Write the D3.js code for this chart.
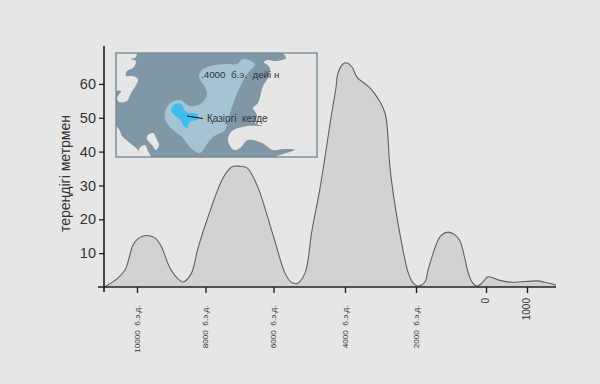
<!DOCTYPE html>
<html><head><meta charset="utf-8">
<style>html,body{margin:0;padding:0;background:#e6e6e6}svg{display:block}text{font-family:"Liberation Sans",Arial,sans-serif}</style>
<script src="https://cdn.jsdelivr.net/npm/d3@7"></script></head>
<body><svg id="c" width="600" height="384"></svg>
<script>
const years=[-10950,-10584,-10350,-10117,-10000,-9854,-9708,-9474,-9299,-9036,-8803,-8657,-8424,-8219,-7956,-7485,-7221,-7015,-6779,-6485,-6015,-5678,-5511,-5343,-5119,-4923,-4699,-4366,-4254,-4197,-4056,-3944,-3803,-3662,-3296,-3014,-2873,-2817,-2732,-2592,-2394,-2225,-2084,-1943,-1743,-1657,-1543,-1429,-1286,-1086,-886,-743,-629,-514,-400,-257,-114,49,171,390,659,1244,1439,1707];
const depths=[0,2.4,5.0,12.4,14.0,14.9,15.2,14.5,12.1,5.6,2.4,1.5,3.8,11.5,19.8,32.2,35.5,35.7,35.2,30.1,15.4,4.1,1.5,1.0,4.1,16.8,29.2,51.7,58.8,63.2,65.9,66.2,65.0,62.0,58.8,54.7,51.4,47.9,35.2,24.2,12.4,4.4,1.2,0.3,1.5,5.0,8.9,12.4,15.2,16.2,15.4,13.6,9.5,4.4,1.5,0.2,1.2,3.0,2.7,1.8,1.4,1.8,1.4,0.6];
const yearTicks=[-10000,-8000,-6000,-4000,-2000,0,1000];
const yearTickPositions=[137,205.5,273.5,345,416,486,527];
const yearLabels=["10000  б.э.д.","8000  б.э.д.","6000  б.э.д.","4000  б.э.д.","2000  б.э.д.","0","1000"];
const depthTicks=[10,20,30,40,50,60];
const yTitle="тереңдігі метрмен";
const mapLabelOld=".4000  б.э.  дейі н";
const mapLabelNow="Қазіргі  кезде";
// inset map outlines, in map units (0..201, 0..104)
const landTopLeft=[[-6,-6],[21,-6],[21,0],[19.5,4.5],[15,6],[20,8],[17,15],[11,18],[10,23],[16,23],[22,26],[20,32],[15,40],[11,48],[3,49],[1,45],[5,38],[-6,37]];
const landBottomLeft=[[-6,70],[1,74],[4,78],[6,83],[14,90],[20,95],[24,99],[27,104],[28,110],[-6,110]];
const islandA=[[32,82],[37,80],[41,87],[43,92],[40,97],[36,92],[31,86]];
const islandB=[[23,96],[29,92],[32,98],[35,104],[36,110],[26,110],[26,104]];
const landRight=[[163,-6],[206,-6],[206,110],[158,110],[160,104],[167,101],[179,97],[167,96],[157,97],[146,90],[132,87],[124,95],[118,97],[112,87],[116,78],[132,73],[146,73],[139,70],[141,62],[137,55],[142,50],[147,33],[152,25],[154,15],[148,9],[152,7],[159,8],[170,5]];
const shelf=[[83,24],[86,17],[94,13],[111,11],[121,11],[127,6],[139,11],[131,21],[124,34],[117,51],[112,67],[109,77],[97,84],[91,91],[84,100],[76,96],[66,84],[56,76],[49,66],[50,56],[56,49],[64,47],[74,53],[84,51],[91,42],[89,34]];
const lake=[[55,57],[59,51],[65,51],[70,59],[81,61],[82,66],[74,69],[71,75],[67,72],[64,66],[58,62]];
const leader=[[71,63],[87,65.5]];

const svg=d3.select("#c");
const x=d3.scaleLinear().domain(yearTicks).range(yearTickPositions);
const y=d3.scaleLinear().domain([0,71.2]).range([287,46]);
const pts=years.map((d,i)=>[d,depths[i]]);
const curve=d3.curveCatmullRom.alpha(0.5);
svg.append("path").datum(pts).attr("fill","#d1d2d4")
  .attr("d",d3.area().x(d=>x(d[0])).y0(y(0)).y1(d=>y(d[1])).curve(curve));
svg.append("path").datum(pts).attr("fill","none").attr("stroke","#606060").attr("stroke-width",1.1)
  .attr("d",d3.line().x(d=>x(d[0])).y(d=>y(d[1])).curve(curve));

// inset map
const mx=d3.scaleLinear().domain([0,201]).range([116,317]);
const my=d3.scaleLinear().domain([0,104]).range([53,157]);
const clip=svg.append("clipPath").attr("id","mc");
clip.append("rect").attr("x",116).attr("y",53).attr("width",201).attr("height",104);
const m=svg.append("g").attr("clip-path","url(#mc)");
m.append("rect").attr("x",116).attr("y",53).attr("width",201).attr("height",104).attr("fill","#8097a5");
const blob=d3.line().x(d=>mx(d[0])).y(d=>my(d[1])).curve(d3.curveCatmullRomClosed.alpha(0.5));
[landTopLeft,landBottomLeft,islandA,islandB,landRight].forEach(s=>{
  m.append("path").attr("d",blob(s)).attr("fill","#e6e6e6");
});
m.append("path").attr("d",blob(shelf)).attr("fill","#a6c3d3");
m.append("path").attr("d",blob(lake)).attr("fill","#3dbcf0");
svg.append("rect").attr("x",116).attr("y",53).attr("width",201).attr("height",104).attr("fill","none").attr("stroke","#6f8791").attr("stroke-width",1.3);
svg.append("line").attr("x1",mx(leader[0][0])).attr("y1",my(leader[0][1])).attr("x2",mx(leader[1][0])).attr("y2",my(leader[1][1])).attr("stroke","#111").attr("stroke-width",1.1);
svg.append("text").attr("x",201).attr("y",78).attr("font-size",9.8).attr("fill","#333").style("white-space","pre").text(mapLabelOld);
svg.append("text").attr("x",207).attr("y",121.5).attr("font-size",10).attr("fill","#333").style("white-space","pre").text(mapLabelNow);

// axes
const ax=svg.append("g").attr("transform",`translate(0,${y(0)})`)
  .call(d3.axisBottom(x).tickValues(yearTicks).tickSize(6).tickSizeOuter(0).tickFormat((d,i)=>yearLabels[i]));
ax.select(".domain").remove();
ax.selectAll(".tick line").attr("stroke","#222").attr("stroke-width",1.4);
ax.selectAll(".tick text").attr("text-anchor","end").attr("dominant-baseline","middle").style("white-space","pre")
  .attr("fill","#333")
  .attr("font-size",(d)=>d>=0?10:8.1)
  .attr("x",0).attr("dy",null)
  .attr("y",0)
  .attr("transform",d=>`translate(0,${d>=0?11:18.5}) rotate(-90)`);
const ay=svg.append("g").attr("transform","translate(104,0)")
  .call(d3.axisLeft(y).tickValues(depthTicks).tickSize(5).tickPadding(3).tickSizeOuter(0));
ay.select(".domain").remove();
ay.selectAll(".tick line").attr("stroke","#222").attr("stroke-width",1.3);
ay.selectAll(".tick text").attr("font-size",14.5).attr("fill","#333");
svg.append("line").attr("x1",104).attr("x2",104).attr("y1",46).attr("y2",292).attr("stroke","#111").attr("stroke-width",1.5);
svg.append("line").attr("x1",98).attr("x2",556).attr("y1",287).attr("y2",287).attr("stroke","#222").attr("stroke-width",1.4);
svg.append("text").attr("transform","translate(70,173.5) rotate(-90)").attr("text-anchor","middle").attr("font-size",14).attr("fill","#333").text(yTitle);
</script></body></html>
